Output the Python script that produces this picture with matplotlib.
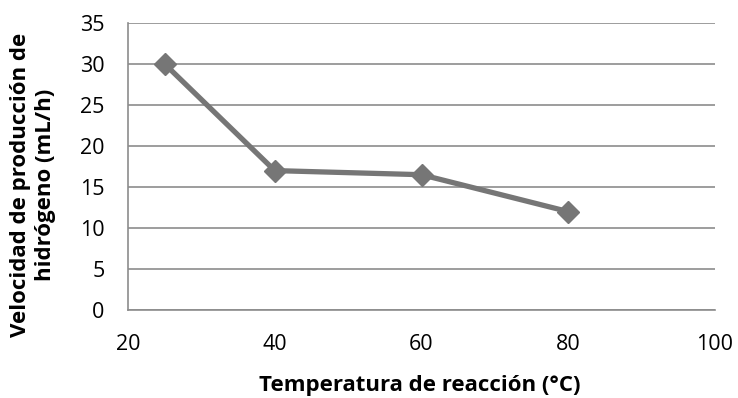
import matplotlib
matplotlib.use("Agg")
import matplotlib.pyplot as plt

# Reaction temperature (°C) vs. hydrogen production rate (mL/h)
temperatura = [25, 40, 60, 80]
velocidad = [30, 17, 16.5, 12]
x_ticks = [20, 40, 60, 80, 100]
y_ticks = [0, 5, 10, 15, 20, 25, 30, 35]

plt.rcParams['font.family'] = ['Open Sans', 'DejaVu Sans']

W, H = 738, 398
fig = plt.figure(figsize=(W / 100, H / 100), dpi=100)
ax = fig.add_axes([128 / W, 1 - 310 / H, (715 - 128) / W, (310 - 23) / H])

grid_c = '#8c8c8c'
line_c = '#767676'

ax.set_xlim(20, 100)
ax.set_ylim(0, 35)
ax.set_xticks(x_ticks)
ax.set_yticks(y_ticks)
ax.yaxis.grid(True, color=grid_c, linewidth=1.2)
ax.set_axisbelow(True)

ax.plot(temperatura, velocidad, color=line_c, linewidth=3.8,
        marker='D', markersize=11, markerfacecolor=line_c,
        markeredgecolor=line_c, solid_joinstyle='round', zorder=3)

for side in ['top', 'right']:
    ax.spines[side].set_visible(False)
for side in ['left', 'bottom']:
    ax.spines[side].set_color(grid_c)
    ax.spines[side].set_linewidth(1.2)

ax.tick_params(axis='both', length=0, labelsize=15.5, colors='black')
ax.tick_params(axis='x', pad=17)
ax.tick_params(axis='y', pad=17)

# Axis titles placed as figure text
fig.text(420 / W, 1 - 385 / H, 'Temperatura de reacción (°C)', fontsize=16,
         fontweight='bold', ha='center', va='center')
fig.text(33 / W, 1 - 185 / H, 'Velocidad de producción de\nhidrógeno (mL/h)',
         fontsize=16, fontweight='bold', rotation=90, ha='center', va='center',
         multialignment='center', linespacing=1.3)

fig.savefig('out.png', dpi=100)
